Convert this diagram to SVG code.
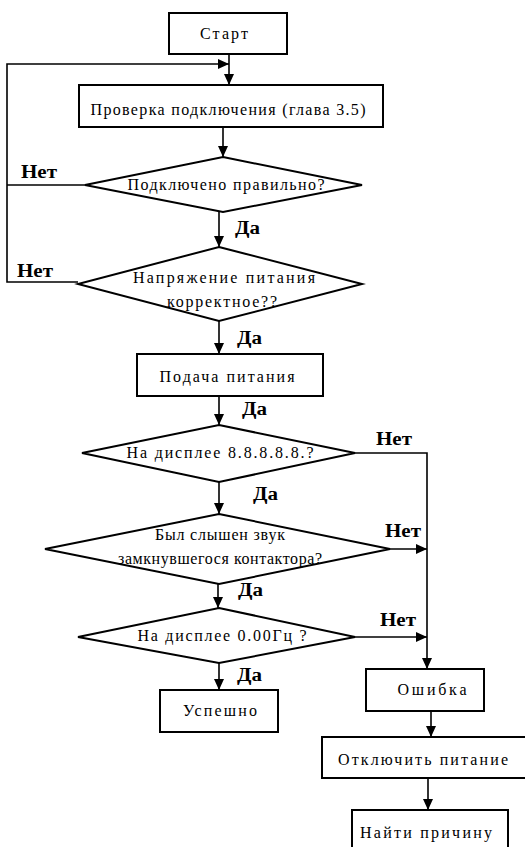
<svg xmlns="http://www.w3.org/2000/svg" width="525" height="847" viewBox="0 0 525 847">
<style>
.box{fill:#fff;stroke:#000;stroke-width:2}
.t{font-family:"Liberation Serif","DejaVu Serif",serif;font-size:16px;fill:#000;text-anchor:middle}
.lb{font-family:"Liberation Serif","DejaVu Serif",serif;font-size:18px;font-weight:bold;fill:#000}
.c{fill:none;stroke:#000;stroke-width:1.6}
</style>
<defs>
<marker id="ah" markerUnits="userSpaceOnUse" markerWidth="12" markerHeight="10" refX="11" refY="5" orient="auto">
<path d="M0,0 L11,5 L0,10 Z" fill="#000"/>
</marker>
</defs>
<rect width="525" height="847" fill="#fff"/>
<g id="connectors">
<line class="c" x1="229" y1="54" x2="229" y2="85" marker-end="url(#ah)"/>
<polyline class="c" points="85,185 7,185" />
<polyline class="c" points="78,282 7,282 7,64 229,64" stroke="#444" marker-end="url(#ah)"/>
<line class="c" x1="223" y1="127" x2="223" y2="157" marker-end="url(#ah)"/>
<line class="c" x1="219" y1="212" x2="219" y2="247" marker-end="url(#ah)"/>
<line class="c" x1="219" y1="321" x2="219" y2="354" marker-end="url(#ah)"/>
<line class="c" x1="219" y1="396" x2="219" y2="425" marker-end="url(#ah)"/>
<line class="c" x1="219" y1="482" x2="219" y2="514" marker-end="url(#ah)"/>
<line class="c" x1="218" y1="584" x2="218" y2="608" marker-end="url(#ah)"/>
<line class="c" x1="219" y1="663" x2="219" y2="690" marker-end="url(#ah)"/>
<polyline class="c" points="355,453 427,453 427,669" marker-end="url(#ah)"/>
<line class="c" x1="390" y1="549" x2="427" y2="549" marker-end="url(#ah)"/>
<line class="c" x1="355" y1="637" x2="427" y2="637" marker-end="url(#ah)"/>
<line class="c" x1="431" y1="711" x2="431" y2="737" marker-end="url(#ah)"/>
<line class="c" x1="428" y1="778" x2="428" y2="810" marker-end="url(#ah)"/>
<text class="lb" x="21" y="178" textLength="36" lengthAdjust="spacingAndGlyphs">Нет</text>
<text class="lb" x="17" y="277" textLength="36" lengthAdjust="spacingAndGlyphs">Нет</text>
<text class="lb" x="235" y="234" textLength="25" lengthAdjust="spacingAndGlyphs">Да</text>
<text class="lb" x="237" y="344" textLength="25" lengthAdjust="spacingAndGlyphs">Да</text>
<text class="lb" x="242" y="415" textLength="25" lengthAdjust="spacingAndGlyphs">Да</text>
<text class="lb" x="253" y="500" textLength="25" lengthAdjust="spacingAndGlyphs">Да</text>
<text class="lb" x="238" y="596" textLength="25" lengthAdjust="spacingAndGlyphs">Да</text>
<text class="lb" x="237" y="681" textLength="25" lengthAdjust="spacingAndGlyphs">Да</text>
<text class="lb" x="376" y="445" textLength="36" lengthAdjust="spacingAndGlyphs">Нет</text>
<text class="lb" x="385" y="537" textLength="36" lengthAdjust="spacingAndGlyphs">Нет</text>
<text class="lb" x="380" y="626" textLength="36" lengthAdjust="spacingAndGlyphs">Нет</text>
</g>
<g id="start">
<rect class="box" x="169" y="13" width="118" height="41"/>
<text class="t" x="224" y="39" textLength="48" lengthAdjust="spacing">Старт</text>
</g>
<g id="check">
<rect class="box" x="79" y="85" width="304" height="42"/>
<text class="t" x="228" y="115" textLength="275" lengthAdjust="spacing">Проверка подключения (глава 3.5)</text>
</g>
<g id="d1">
<polygon class="box" points="223,157 362,185 223,212 85,185"/>
<text class="t" x="226" y="190" textLength="197" lengthAdjust="spacing">Подключено правильно?</text>
</g>
<g id="d2">
<polygon class="box" points="219,247 362,284 219,321 78,284"/>
<text class="t" x="224" y="283" textLength="182" lengthAdjust="spacing">Напряжение питания</text>
<text class="t" x="222" y="307" textLength="110" lengthAdjust="spacing">корректное??</text>
</g>
<g id="power">
<rect class="box" x="137" y="354" width="186" height="42"/>
<text class="t" x="227" y="382" textLength="135" lengthAdjust="spacing">Подача питания</text>
</g>
<g id="d3">
<polygon class="box" points="219,425 355,453 219,482 82,453"/>
<text class="t" x="220" y="458" textLength="187" lengthAdjust="spacing">На дисплее 8.8.8.8.8.?</text>
</g>
<g id="d4">
<polygon class="box" points="219,514 390,549 219,584 45,549"/>
<text class="t" x="220" y="540" textLength="130" lengthAdjust="spacing">Был слышен звук</text>
<text class="t" x="220" y="564" textLength="204" lengthAdjust="spacing">замкнувшегося контактора?</text>
</g>
<g id="d5">
<polygon class="box" points="219,608 355,637 219,663 78,637"/>
<text class="t" x="222" y="641" textLength="169" lengthAdjust="spacing">На дисплее 0.00Гц ?</text>
</g>
<g id="success">
<rect class="box" x="160" y="690" width="118" height="42"/>
<text class="t" x="220" y="716" textLength="74" lengthAdjust="spacing">Успешно</text>
</g>
<g id="error">
<rect class="box" x="366" y="669" width="118" height="42"/>
<text class="t" x="432" y="695" textLength="69" lengthAdjust="spacing">Ошибка</text>
</g>
<g id="off">
<rect class="box" x="322" y="737" width="206" height="41"/>
<text class="t" x="423" y="765" textLength="170" lengthAdjust="spacing">Отключить питание</text>
</g>
<g id="find">
<rect class="box" x="352" y="810" width="156" height="42"/>
<text class="t" x="426" y="838" textLength="132" lengthAdjust="spacing">Найти причину</text>
</g>
</svg>
